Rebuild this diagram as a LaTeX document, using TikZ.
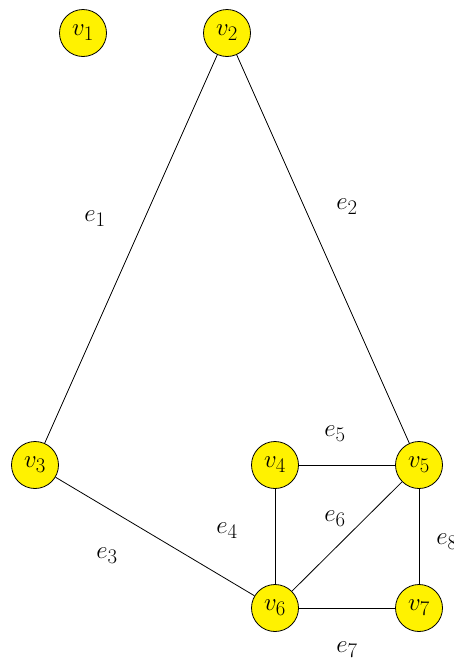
\documentclass[tikz,border=0pt]{standalone}
\begin{document}
\begin{tikzpicture}[x=1pt,y=-1pt,
  vertex/.style={circle,draw=black,line width=0.8pt,fill=yellow,minimum size=47pt,inner sep=0pt,
    font=\fontsize{31}{36}\selectfont},
  elabel/.style={font=\fontsize{31}{36}\selectfont,inner sep=0pt},
  edge/.style={line width=0.8pt}]
\useasboundingbox (0,0) rectangle (453,664);
% vertices
\node[vertex] (v1) at (83,33) {$v_1$};
\node[vertex] (v2) at (227,33) {$v_2$};
\node[vertex] (v3) at (35,465) {$v_3$};
\node[vertex] (v4) at (275,465) {$v_4$};
\node[vertex] (v5) at (419,465) {$v_5$};
\node[vertex] (v6) at (275,608) {$v_6$};
\node[vertex] (v7) at (419,608) {$v_7$};
% edges
\draw[edge] (v2) -- (v3);
\draw[edge] (v2) -- (v5);
\draw[edge] (v3) -- (v6);
\draw[edge] (v4) -- (v6);
\draw[edge] (v4) -- (v5);
\draw[edge] (v5) -- (v6);
\draw[edge] (v6) -- (v7);
\draw[edge] (v5) -- (v7);
% edge labels
\node[elabel] (l1) at (95,219) {$e_1$};
\node[elabel] (l2) at (347,207) {$e_2$};
\node[elabel] (l3) at (107,556) {$e_3$};
\node[elabel] (l4) at (227,531) {$e_4$};
\node[elabel] (l5) at (335,434) {$e_5$};
\node[elabel] (l6) at (335,519) {$e_6$};
\node[elabel] (l7) at (347,650) {$e_7$};
\node[elabel] (l8) at (447,542) {$e_8$};
\end{tikzpicture}
\end{document}
